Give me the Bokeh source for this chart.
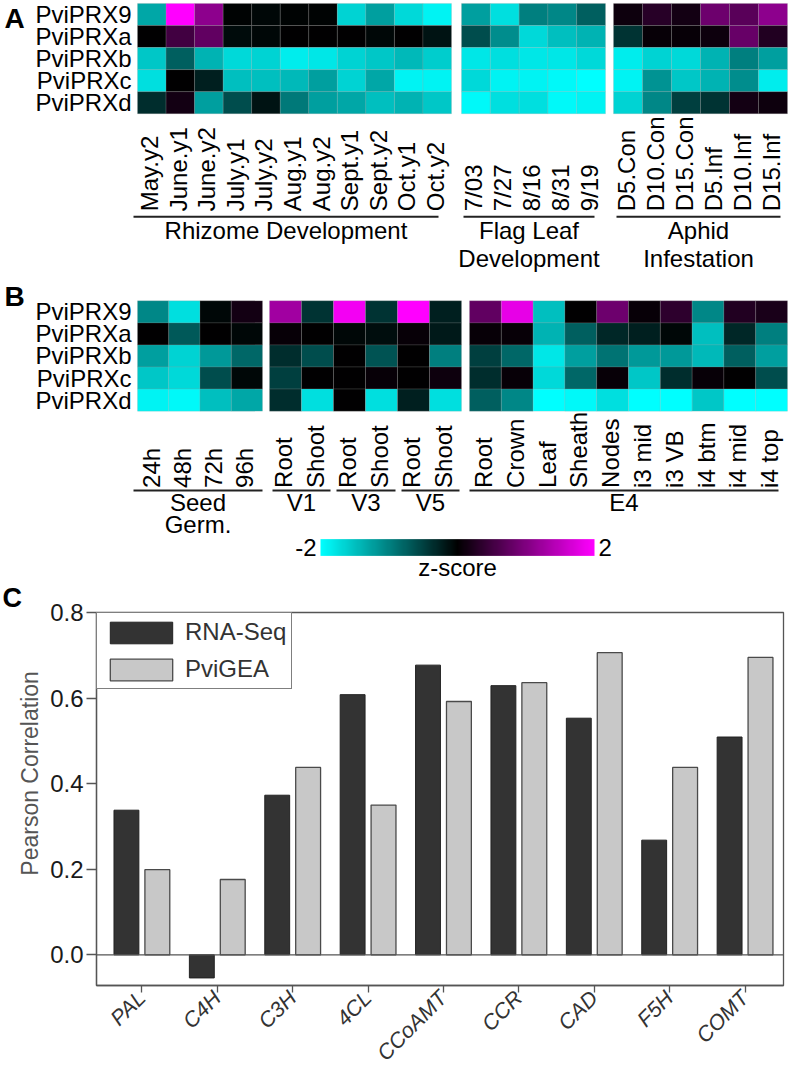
import numpy as np
from math import pi
from bokeh.plotting import figure
from bokeh.models import (Range1d, ColumnDataSource, LinearColorMapper, FixedTicker,
                          Span, Legend, LegendItem, PrintfTickFormatter)
from bokeh.embed import file_html
from bokeh.resources import INLINE
from bokeh.core.properties import value
from bokeh.transform import dodge

# ---------------- data ----------------
genes = ["PviPRX9", "PviPRXa", "PviPRXb", "PviPRXc", "PviPRXd"]

rhizome_cols = ["May.y2", "June.y1", "June.y2", "July.y1", "July.y2", "Aug.y1",
                "Aug.y2", "Sept.y1", "Sept.y2", "Oct.y1", "Oct.y2"]
rhizome_z = [
    [-1.3, 2.0, 1.1, -0.02, -0.06, -0.02, -0.02, -1.65, -1.25, -1.7, -1.9],
    [0.0, 0.5, 0.75, -0.08, -0.05, 0.0, 0.0, 0.0, -0.06, 0.0, -0.15],
    [-1.55, -0.75, -1.4, -1.7, -1.65, -1.85, -1.8, -1.65, -1.55, -1.45, -1.6],
    [-1.75, 0.0, -0.25, -1.5, -1.5, -1.45, -1.25, -1.65, -1.3, -1.9, -1.9],
    [-0.35, 0.15, -1.25, -0.6, -0.15, -0.95, -1.25, -1.3, -1.5, -1.4, -1.55],
]
flag_cols = ["7/03", "7/27", "8/16", "8/31", "9/19"]
flag_z = [
    [-1.25, -1.75, -1.0, -1.05, -0.75],
    [-0.6, -1.1, -1.7, -1.5, -1.4],
    [-1.8, -1.75, -1.8, -1.8, -1.7],
    [-1.7, -1.9, -1.9, -1.95, -2.0],
    [-1.95, -1.75, -1.75, -1.95, -1.9],
]
aphid_cols = ["D5.Con", "D10.Con", "D15.Con", "D5.Inf", "D10.Inf", "D15.Inf"]
aphid_z = [
    [0.1, 0.3, 0.15, 0.85, 0.7, 1.1],
    [-0.4, 0.05, 0.05, 0.1, 0.8, 0.25],
    [-1.85, -1.65, -1.7, -1.4, -1.0, -1.25],
    [-1.9, -1.15, -1.55, -1.4, -1.1, -1.85],
    [-1.65, -1.05, -0.5, -0.4, 0.15, 0.1],
]
seed_cols = ["24h", "48h", "72h", "96h"]
seed_z = [
    [-1.05, -1.75, -0.05, 0.15],
    [0.0, -0.7, 0.0, -0.05],
    [-1.25, -1.65, -1.2, -0.8],
    [-1.55, -1.7, -0.6, -0.05],
    [-1.9, -1.95, -1.5, -1.3],
]
veg_cols = ["Root", "Shoot", "Root", "Shoot", "Root", "Shoot"]
veg_z = [
    [1.25, -0.4, 1.9, -0.4, 2.0, -0.25],
    [0.05, 0.0, -0.05, -0.1, 0.05, -0.2],
    [-0.35, -0.6, 0.0, -0.65, 0.0, -1.0],
    [-0.5, 0.0, 0.0, 0.05, 0.0, 0.1],
    [-0.35, -1.75, 0.0, -1.75, -0.25, -1.75],
]
e4_cols = ["Root", "Crown", "Leaf", "Sheath", "Nodes", "i3 mid", "i3 VB",
           "i4 btm", "i4 mid", "i4 top"]
e4_z = [
    [0.75, 1.8, -1.5, 0.0, 0.85, 0.05, 0.35, -1.05, 0.25, 0.2],
    [0.05, 0.05, -1.4, -0.75, -0.3, -0.25, -0.05, -1.5, -0.3, -1.0],
    [-0.5, -0.8, -1.8, -1.25, -0.9, -1.2, -1.2, -1.45, -0.75, -1.25],
    [-0.35, 0.05, -1.7, -0.8, 0.05, -1.55, -0.35, 0.05, 0.0, -0.6],
    [-0.75, -1.05, -2.0, -1.95, -1.75, -2.0, -2.0, -1.55, -2.0, -2.0],
]
groups_a = [["Rhizome Development"], ["Flag Leaf", "Development"], ["Aphid", "Infestation"]]
groups_b = [["Seed", "Germ."], ["V1"], ["V3"], ["V5"], ["E4"]]

enzymes = ["PAL", "C4H", "C3H", "4CL", "CCoAMT", "CCR", "CAD", "F5H", "COMT"]
rnaseq = [0.338, -0.054, 0.373, 0.608, 0.677, 0.629, 0.553, 0.268, 0.509]
pvigea = [0.199, 0.176, 0.438, 0.350, 0.592, 0.636, 0.706, 0.438, 0.695]

# ---------------- style / layout ----------------
FONT = value("Liberation Sans")
FS = "24px"
W, H1, H2 = 788, 580, 496

palette = []
for t in np.linspace(-2, 2, 256):
    if t < 0:
        g = int(round(255 * (-t / 2)))
        palette.append("#00%02x%02x" % (g, g))
    else:
        r = int(round(255 * (t / 2)))
        palette.append("#%02x00%02x" % (r, r))
mapper = LinearColorMapper(palette=palette, low=-2, high=2)

p1 = figure(width=W, height=H1, x_range=Range1d(0, 788), y_range=Range1d(-589, 0),
            output_backend="svg", toolbar_location=None, min_border=0,
            min_border_left=0, min_border_right=0, min_border_top=0, min_border_bottom=0)
p1.axis.visible = False
p1.grid.visible = False
p1.outline_line_color = None

cells = dict(left=[], right=[], top=[], bottom=[], z=[])
labs = dict(x=[], y=[], text=[])
rowl = dict(x=[], y=[], text=[])
glab = dict(x=[], y=[], text=[])
seg = dict(x0=[], x1=[], y=[])


def add_panel(blocks, top, bottom, label_bottom, groups, glines, line_y, text_ys):
    rh = (bottom - top) / len(genes)
    for i, g in enumerate(genes):
        rowl["x"].append(131)
        rowl["y"].append(-(top + rh * (i + 0.5)))
        rowl["text"].append(g)
    for cols, z, L, R in blocks:
        cw = (R - L) / len(cols)
        for j, c in enumerate(cols):
            for i in range(len(genes)):
                cells["left"].append(L + j * cw)
                cells["right"].append(L + (j + 1) * cw)
                cells["top"].append(-(top + i * rh))
                cells["bottom"].append(-(top + (i + 1) * rh))
                cells["z"].append(z[i][j])
            labs["x"].append(L + (j + 0.5) * cw - 2)
            labs["y"].append(-label_bottom)
            labs["text"].append(c)
    for (x0, x1), lines in zip(glines, groups):
        seg["x0"].append(x0)
        seg["x1"].append(x1)
        seg["y"].append(-line_y)
        for k, t in enumerate(lines):
            glab["x"].append((x0 + x1) / 2)
            glab["y"].append(-text_ys[k])
            glab["text"].append(t)


add_panel([(rhizome_cols, rhizome_z, 137, 451), (flag_cols, flag_z, 461, 605),
           (aphid_cols, aphid_z, 613, 787)], 3, 115, 214, groups_a,
          [(133, 438), (463, 594), (616, 780)], 219.5, [234, 262])
add_panel([(seed_cols, seed_z, 137, 262), (veg_cols, veg_z, 269, 461),
           (e4_cols, e4_z, 469, 787)], 305, 417, 495, groups_b,
          [(133, 262), (272, 330), (336, 395), (401, 459), (469, 778)], 497.5, [510, 532])

p1.quad(left="left", right="right", top="top", bottom="bottom",
        source=ColumnDataSource(cells),
        fill_color={"field": "z", "transform": mapper},
        line_color="#9a9a9a", line_alpha=0.35, line_width=0.6)
p1.text(x="x", y="y", text="text", source=ColumnDataSource(rowl), text_align="right",
        text_baseline="middle", text_font=FONT, text_font_size=FS, text_color="black")
p1.text(x="x", y="y", text="text", source=ColumnDataSource(labs), angle=pi / 2,
        text_align="left", text_baseline="middle", text_font=FONT, text_font_size=FS,
        text_color="black")
p1.segment(x0="x0", y0="y", x1="x1", y1="y", source=ColumnDataSource(seg),
           line_color="#222222", line_width=2)
p1.text(x="x", y="y", text="text", source=ColumnDataSource(glab), text_align="center",
        text_baseline="middle", text_font=FONT, text_font_size=FS, text_color="black")

# colour bar
grad = np.linspace(-2, 2, 256).reshape(1, 256)
p1.image(image=[grad], x=320, y=-564, dw=274, dh=17, color_mapper=mapper)
p1.text(x=[316, 598], y=[-555, -555], text=["-2", "2"], text_align=["right", "left"],
        text_baseline="middle", text_font=FONT, text_font_size=FS, text_color="black")
p1.text(x=[457], y=[-576], text=["z-score"], text_align="center", text_baseline="middle",
        text_font=FONT, text_font_size=FS, text_color="black")
# panel letters
p1.text(x=[14, 14], y=[-18, -301], text=["A", "B"], text_align="center",
        text_baseline="middle", text_font=FONT, text_font_size="28px",
        text_font_style="bold", text_color="black")

# ---------------- panel C ----------------
Y_MIN = -0.0717
src = ColumnDataSource(dict(x=list(range(len(enzymes))), rna=rnaseq, gea=pvigea))
p2 = figure(width=W, height=H2, x_range=Range1d(-0.602, 8.51), y_range=Range1d(Y_MIN, 0.8),
            output_backend="svg", toolbar_location=None, title="C",
            min_border_left=96, min_border_right=5, min_border_top=0, min_border_bottom=89)
p2.title.align = "left"
p2.title.offset = -94
p2.title.standoff = 0
p2.title.text_font = "Liberation Sans"
p2.title.text_font_size = "27px"
p2.title.text_font_style = "bold"
p2.title.text_color = "black"
p2.grid.visible = False
p2.outline_line_color = "#555555"
p2.outline_line_width = 1.3

r1 = p2.vbar(x=dodge("x", -0.205), top="rna", bottom=0, width=0.33, source=src,
             fill_color="#333333", line_color="#222222", line_width=1)
r2 = p2.vbar(x=dodge("x", 0.205), top="gea", bottom=0, width=0.33, source=src,
             fill_color="#c8c8c8", line_color="#4a4a4a", line_width=1.3)
p2.add_layout(Span(location=0, dimension="width", line_color="#555555", line_width=1.3))

for ax in (p2.xaxis[0], p2.yaxis[0]):
    ax.axis_line_color = "#555555"
    ax.axis_line_width = 1.3
    ax.major_tick_line_color = "#555555"
    ax.major_tick_line_width = 1.3
    ax.major_tick_in = 0
    ax.minor_tick_line_color = None

p2.yaxis.ticker = FixedTicker(ticks=[0.0, 0.2, 0.4, 0.6, 0.8])
p2.yaxis.formatter = PrintfTickFormatter(format="%.1f")
p2.yaxis.major_tick_out = 10
p2.yaxis.major_label_standoff = 3
p2.yaxis.major_label_text_font = "Liberation Sans"
p2.yaxis.major_label_text_font_size = "24px"
p2.yaxis.major_label_text_color = "#1a1a1a"
p2.yaxis.axis_label = "\u00a0" * 8 + "Pearson Correlation"
p2.yaxis.axis_label_standoff = 4
p2.yaxis.axis_label_text_font = "Liberation Sans"
p2.yaxis.axis_label_text_font_size = "23px"
p2.yaxis.axis_label_text_font_style = "normal"
p2.yaxis.axis_label_text_color = "#555555"

p2.xaxis.ticker = FixedTicker(ticks=list(range(len(enzymes))))
p2.xaxis.major_label_overrides = {i: e for i, e in enumerate(enzymes)}
p2.xaxis.major_label_orientation = pi / 4
p2.xaxis.major_tick_out = 7
p2.xaxis.major_label_standoff = 2
p2.xaxis.major_label_text_font = "Liberation Sans"
p2.xaxis.major_label_text_font_style = "italic"
p2.xaxis.major_label_text_font_size = "21.5px"
p2.xaxis.major_label_text_color = "#333333"

legend = Legend(items=[LegendItem(label="RNA-Seq", renderers=[r1]),
                       LegendItem(label="PviGEA", renderers=[r2])],
                location="top_left", margin=0, padding=5, spacing=9,
                glyph_width=78, glyph_height=27, label_height=27, label_standoff=5,
                border_line_color="black", border_line_width=1.5,
                label_text_font="Liberation Sans", label_text_font_size="24px",
                label_text_color="#333333", background_fill_alpha=1)
p2.add_layout(legend)

open("out.html", "w").write(file_html([p1, p2], INLINE))
